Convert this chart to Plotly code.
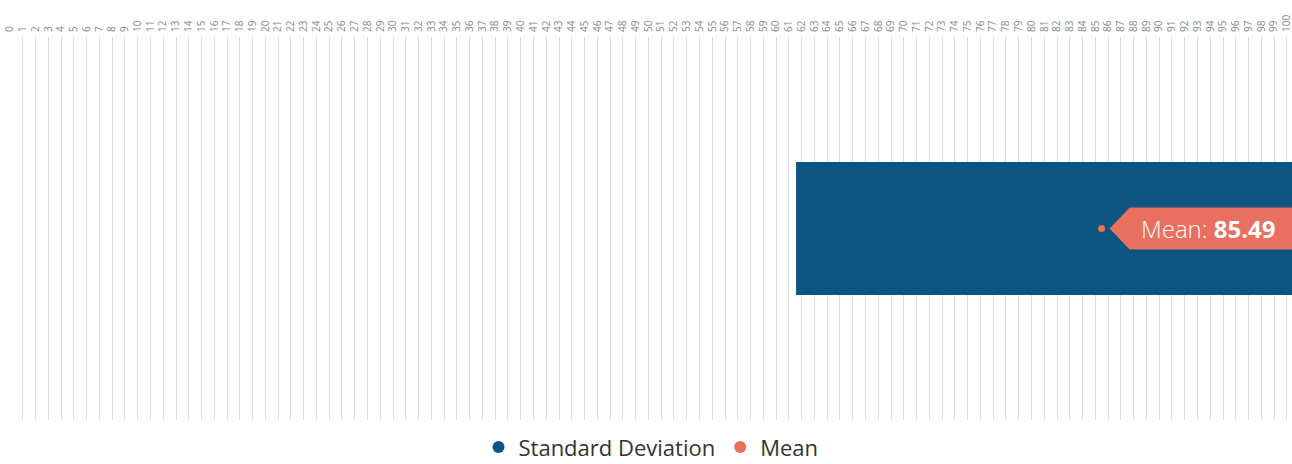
import plotly.graph_objects as go

# Summary statistics
mean_value = 85.49
std_dev = 23.93
tick_values = list(range(0, 101))
series_names = ["Standard Deviation", "Mean"]

BLUE = "#0b5580"
SALMON = "#e8705e"
FONT = "Open Sans, Roboto, sans-serif"

lower = mean_value - std_dev
upper = mean_value + std_dev

fig = go.Figure()

# Standard deviation band (mean ± sd), clipped by the axis range
fig.add_trace(go.Bar(
    x=[upper - lower], base=[lower], y=[0], orientation="h",
    width=0.347, marker=dict(color=BLUE, line=dict(width=0)),
    showlegend=False, hoverinfo="skip",
))

# Mean marker
fig.add_trace(go.Scatter(
    x=[mean_value], y=[0], mode="markers",
    marker=dict(color=SALMON, size=7), showlegend=False,
))

# Legend entries with round symbols
for name, color in zip(series_names, [BLUE, SALMON]):
    fig.add_trace(go.Scatter(
        x=[None], y=[None], mode="markers", name=name,
        marker=dict(color=color, size=11, symbol="circle"),
    ))

# Tag-shaped label behind the mean value
fig.add_shape(
    type="path", xref="x", yref="y",
    xsizemode="pixel", ysizemode="pixel",
    xanchor=mean_value, yanchor=0,
    path="M 8 0 L 28 21 L 192 21 L 192 -21 L 28 -21 Z",
    fillcolor=SALMON, line=dict(width=0), layer="above",
)
fig.add_annotation(
    x=mean_value, y=0, xref="x", yref="y",
    text=f"<span style='font-weight:300'>Mean: </span><b>{mean_value:.2f}</b>",
    showarrow=False, xanchor="center", yanchor="middle",
    xshift=106, yshift=0,
    font=dict(color="white", size=24, family=FONT),
)

fig.update_layout(
    width=1292, height=464,
    margin=dict(l=10, r=0, t=37, b=44),
    paper_bgcolor="white", plot_bgcolor="white",
    font=dict(family=FONT, color="#333333"),
    xaxis=dict(
        range=[0, 100.4], side="top", automargin=False,
        tickmode="array", tickvals=tick_values,
        ticktext=[str(v) for v in tick_values],
        tickangle=-90, tickfont=dict(size=10, color="#888888"),
        ticklabeloverflow="allow", ticklabelstandoff=4,
        showgrid=True, gridcolor="#dcdcdc", gridwidth=1,
        zeroline=False, showline=False, ticks="",
    ),
    yaxis=dict(
        range=[-0.5, 0.5], showgrid=False, zeroline=False,
        showticklabels=False, ticks="", fixedrange=True,
        automargin=False,
    ),
    legend=dict(
        orientation="h", x=0.5, xanchor="center",
        y=0.036, yref="container", yanchor="middle",
        font=dict(size=22, color="#333333"),
        itemsizing="constant",
    ),
)

fig.write_html("out.html")
